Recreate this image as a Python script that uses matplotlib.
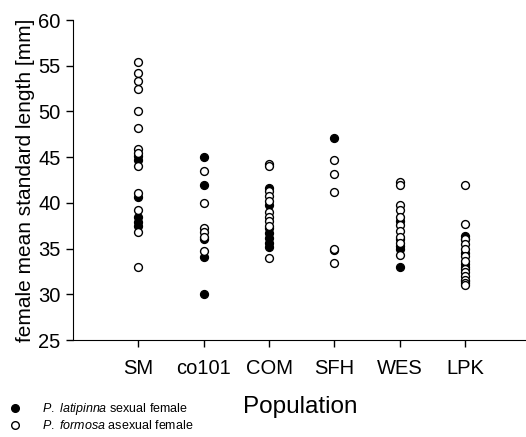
import matplotlib.pyplot as plt
from matplotlib.lines import Line2D

plt.rcParams['font.family'] = ['Liberation Sans', 'DejaVu Sans']
plt.rcParams['mathtext.fontset'] = 'custom'
plt.rcParams['mathtext.it'] = 'Liberation Sans:italic'
plt.rcParams['mathtext.rm'] = 'Liberation Sans'

populations = ['SM', 'co101', 'COM', 'SFH', 'WES', 'LPK']

# sexual females (P. latipinna), mean standard length per population
latipinna = {
    'SM': [45.1, 44.7, 40.6, 38.4, 37.9, 37.5],
    'co101': [45.0, 42.0, 36.0, 34.1, 30.0],
    'COM': [41.6, 39.8, 37.2, 36.7, 36.2, 35.6, 35.2],
    'SFH': [47.1, 34.8],
    'WES': [38.0, 36.0, 35.3, 35.0, 33.0],
    'LPK': [36.4, 36.1, 34.5, 33.3, 33.0, 31.4],
}

# asexual females (P. formosa)
formosa = {
    'SM': [55.4, 54.2, 53.3, 52.5, 50.1, 48.2, 45.9, 45.5, 44.0, 41.1, 39.2, 36.8, 33.0],
    'co101': [43.5, 40.0, 37.3, 36.8, 36.3, 34.7],
    'COM': [44.3, 44.0, 41.3, 40.7, 40.2, 39.0, 38.5, 38.0, 37.5, 34.0],
    'SFH': [44.7, 43.2, 41.2, 35.0, 33.4],
    'WES': [42.3, 41.9, 39.8, 39.2, 38.5, 37.6, 36.9, 36.3, 35.6, 34.3],
    'LPK': [42.0, 37.7, 36.0, 35.5, 35.0, 34.2, 33.6, 32.8, 32.4, 32.0, 31.6, 31.2, 31.0],
}

fig = plt.figure(figsize=(5.26, 4.37), dpi=100)
ax = fig.add_axes([73 / 526, 1 - 340 / 437, 1 - 73 / 526, 320 / 437])

for i, pop in enumerate(populations):
    pos = i + 1
    ax.scatter([pos] * len(latipinna[pop]), latipinna[pop], s=32, c='black',
               edgecolors='black', linewidths=1, zorder=3)
    ax.scatter([pos] * len(formosa[pop]), formosa[pop], s=32, c='white',
               edgecolors='black', linewidths=1, zorder=4)

ax.set_xlim(0, 6.93)
ax.set_ylim(25, 60)
ax.set_yticks(range(25, 61, 5))
ax.set_xticks(range(1, 7))
ax.set_xticklabels(populations)
ax.spines['top'].set_visible(False)
ax.spines['right'].set_visible(False)
ax.tick_params(direction='out', length=5, width=1, labelsize=14.5, pad=4)
ax.tick_params(axis='x', pad=9)
ax.set_ylabel('female mean standard length [mm]', fontsize=15, labelpad=2)

fig.text(0.571, 1 - 407 / 437, 'Population', fontsize=17.5, ha='center', va='center')

handles = [
    Line2D([], [], ls='none', marker='o', markersize=5.5, mfc='black', mec='black'),
    Line2D([], [], ls='none', marker='o', markersize=5.5, mfc='white', mec='black'),
]
labels = [r'$\it{P.\ latipinna}$ sexual female', r'$\it{P.\ formosa}$ asexual female']
fig.legend(handles, labels, loc='lower left', bbox_to_anchor=(-0.005, -0.012),
           frameon=False, fontsize=9, handlelength=1.2, handletextpad=1.6,
           labelspacing=0.15, borderpad=0.3)

fig.savefig('out.png', dpi=100)
